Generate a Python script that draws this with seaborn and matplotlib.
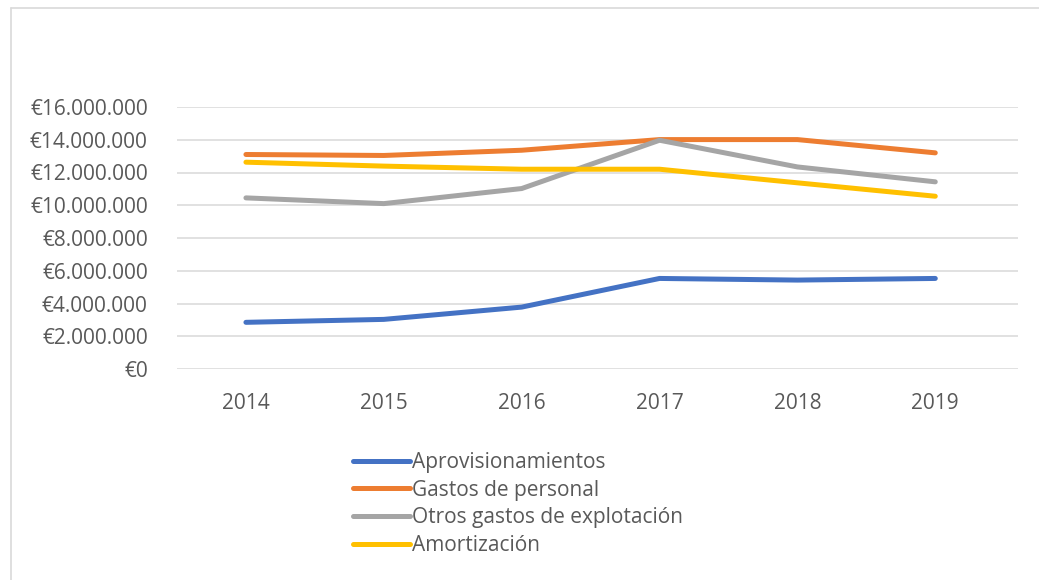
import pandas as pd
import numpy as np
import seaborn as sns
import matplotlib.pyplot as plt
from matplotlib.lines import Line2D

years = [2014, 2015, 2016, 2017, 2018, 2019]
aprovisionamientos = [2850000, 3030000, 3780000, 5530000, 5430000, 5530000]
gastos_personal = [13100000, 13040000, 13360000, 14010000, 14010000, 13200000]
otros_gastos = [10450000, 10100000, 11020000, 13970000, 12340000, 11430000]
amortizacion = [12630000, 12390000, 12200000, 12200000, 11370000, 10550000]

series_names = ['Aprovisionamientos', 'Gastos de personal',
                'Otros gastos de explotación', 'Amortización']
colors = ['#4472C4', '#ED7D31', '#A5A5A5', '#FFC000']
yticks = list(range(0, 16000001, 2000000))

df = pd.DataFrame({
    'year': years * 4,
    'value': aprovisionamientos + gastos_personal + otros_gastos + amortizacion,
    'serie': np.repeat(series_names, len(years)),
})

sns.set_style('white')
plt.rcParams['font.family'] = ['Open Sans', 'DejaVu Sans']

fig = plt.figure(figsize=(10.39, 5.8), dpi=100)
ax = fig.add_axes([177/1039, 1 - 369/580, (1018 - 177)/1039, (369 - 107)/580])

sns.lineplot(data=df, x='year', y='value', hue='serie', hue_order=series_names,
             palette=colors, linewidth=3.6, ax=ax, legend=True,
             solid_capstyle='round')

ax.set_xlim(2013.5, 2019.6)
ax.set_ylim(0, 16000000)
ax.set_yticks(yticks)
ax.set_yticklabels(['€' + f'{v:,}'.replace(',', '.') for v in yticks])
ax.set_xticks(years)
ax.set_xticklabels([str(y) for y in years])
ax.set_xlabel('')
ax.set_ylabel('')
ax.grid(axis='y', color='#d9d9d9', linewidth=1.1)
ax.set_axisbelow(True)
for s in ax.spines.values():
    s.set_visible(False)
ax.tick_params(axis='y', length=0, pad=21, labelsize=15, labelcolor='#595959')
ax.tick_params(axis='x', length=0, pad=17, labelsize=15, labelcolor='#595959')

handles = [Line2D([0], [0], color=c, linewidth=3.6, solid_capstyle='round') for c in colors]
ax.legend(handles, series_names, loc='upper left',
          bbox_to_anchor=(353/1039, 1 - 452/580), bbox_transform=fig.transFigure,
          frameon=False, fontsize=15, labelcolor='#595959',
          handlelength=2.75, handletextpad=0.1, labelspacing=0.32, borderpad=0,
          borderaxespad=0)

# outer chart border (top and left edges visible)
fig.add_artist(Line2D([11/1039, 1], [1 - 7.5/580, 1 - 7.5/580], color='#d9d9d9',
                      linewidth=1.2, transform=fig.transFigure))
fig.add_artist(Line2D([11/1039, 11/1039], [0, 1 - 7.5/580], color='#d9d9d9',
                      linewidth=1.2, transform=fig.transFigure))

fig.savefig('out.png', dpi=100, facecolor='white')
